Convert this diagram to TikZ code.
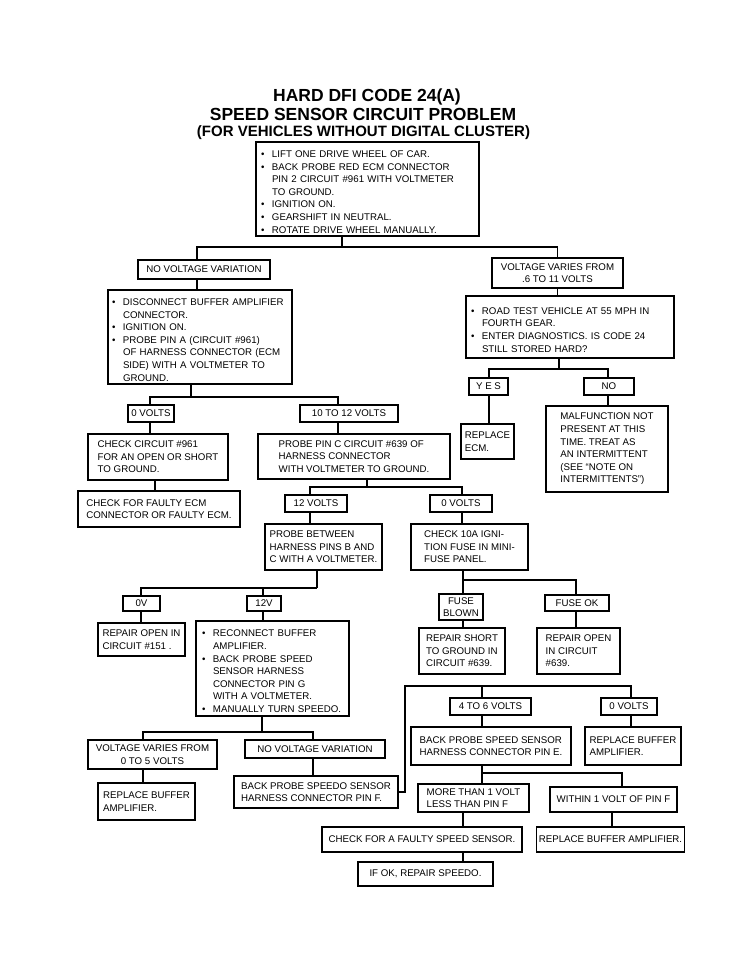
\documentclass[tikz,border=0pt]{standalone}
\usepackage{fontspec}
\setmainfont{Liberation Sans}
\newcommand{\bul}{\par\noindent\hangindent=11pt\hangafter=1\makebox[11pt][l]{\textbullet}}
\begin{document}
\begin{tikzpicture}[x=1pt,y=-1pt,
  box/.style={draw, line width=1.2pt, inner xsep=5pt, inner ysep=1pt, font=\fontsize{9.7}{12.6}\selectfont},
  L/.style={box, align=left},
  C/.style={box, align=center},
  S/.style={box, inner xsep=2pt},
  wire/.style={line width=1.2pt},
  ttl/.style={font=\bfseries\fontsize{17.5}{20}\selectfont, anchor=base}]
\useasboundingbox (0,0) rectangle (743,980);

% titles
\node[ttl] (t1) at (367,101) {HARD DFI CODE 24(A)};
\node[ttl] (t2) at (363,120) {SPEED SENSOR CIRCUIT PROBLEM};
\node[ttl, font=\bfseries\fontsize{15}{18}\selectfont] (t3) at (363.5,136) {(FOR VEHICLES WITHOUT DIGITAL CLUSTER)};

% boxes
\node[L, text width=213pt, minimum height=94pt] (A) at (367.5,189) {\bul LIFT ONE DRIVE WHEEL OF CAR.\bul BACK PROBE RED ECM CONNECTOR\newline PIN 2 CIRCUIT \#961 WITH VOLTMETER\newline TO GROUND.\bul IGNITION ON.\bul GEARSHIFT IN NEUTRAL.\bul ROTATE DRIVE WHEEL MANUALLY.\par};

\node[S, minimum width=132pt, minimum height=19pt] (B1) at (204,269.5) {NO VOLTAGE VARIATION};
\node[C, inner xsep=2pt, minimum width=131pt, minimum height=30pt] (B2) at (557.5,273) {VOLTAGE VARIES FROM\\.6 TO 11 VOLTS};

\node[L, inner xsep=4pt, text width=176pt, minimum height=94pt] (C1) at (200,337) {\bul DISCONNECT BUFFER AMPLIFIER\newline CONNECTOR.\bul IGNITION ON.\bul PROBE PIN A (CIRCUIT \#961)\newline OF HARNESS CONNECTOR (ECM\newline SIDE) WITH A VOLTMETER TO\newline GROUND.\par};
\node[L, text width=198pt, minimum height=62pt] (C2) at (570,327) {\bul ROAD TEST VEHICLE AT 55 MPH IN\newline FOURTH GEAR.\bul ENTER DIAGNOSTICS. IS CODE 24\newline STILL STORED HARD?\par};

\node[S, minimum width=39pt, minimum height=17pt] (YES) at (488.5,386.5) {Y E S};
\node[S, minimum width=50pt, minimum height=17pt] (NO) at (609,386.5) {NO};
\node[L, inner xsep=3pt, minimum width=53pt, minimum height=35pt] (RECM) at (487.5,441.5) {REPLACE\\ECM.};
\node[L, inner xsep=3pt, minimum width=122pt, minimum height=86pt] (MAL) at (607,449) {MALFUNCTION NOT\\PRESENT AT THIS\\TIME. TREAT AS\\AN INTERMITTENT\\(SEE “NOTE ON\\INTERMITTENTS”)};

\node[S, minimum width=46pt, minimum height=17pt] (D1) at (151,413.5) {0 VOLTS};
\node[S, minimum width=98pt, minimum height=17pt] (D2) at (349,413.5) {10 TO 12 VOLTS};

\node[L, inner xsep=3pt, minimum width=140pt, minimum height=46pt] (E1) at (158,457) {CHECK CIRCUIT \#961\\FOR AN OPEN OR SHORT\\TO GROUND.};
\node[L, inner xsep=3pt, minimum width=192pt, minimum height=45pt] (E2) at (354,456.5) {PROBE PIN C CIRCUIT \#639 OF\\HARNESS CONNECTOR\\WITH VOLTMETER TO GROUND.};
\node[L, inner xsep=3pt, minimum width=162pt, minimum height=36pt] (F1) at (159,509) {CHECK FOR FAULTY ECM\\CONNECTOR OR FAULTY ECM.};

\node[S, minimum width=62pt, minimum height=17pt] (G1) at (316,503.5) {12 VOLTS};
\node[S, minimum width=62pt, minimum height=17pt] (G2) at (461,503.5) {0 VOLTS};

\node[L, inner xsep=3pt, minimum width=117pt, minimum height=46pt] (H1) at (323.5,547) {PROBE BETWEEN\\HARNESS PINS B AND\\C WITH A VOLTMETER.};
\node[L, inner xsep=3pt, minimum width=117pt, minimum height=46pt] (H2) at (469.5,547) {CHECK 10A IGNI-\\TION FUSE IN MINI-\\FUSE PANEL.};

\node[S, minimum width=37pt, minimum height=15pt] (V0) at (141.5,603.5) {0V};
\node[S, minimum width=34pt, minimum height=15pt] (V12) at (264,603.5) {12V};
\node[L, inner xsep=3pt, minimum width=87pt, minimum height=33pt] (I1) at (141.5,639.5) {REPAIR OPEN IN\\CIRCUIT \#151 .};
\node[L, inner xsep=6pt, text width=141pt, minimum height=95pt] (I2) at (272.5,668.5) {\bul RECONNECT BUFFER\newline AMPLIFIER.\bul BACK PROBE SPEED\newline SENSOR HARNESS\newline CONNECTOR PIN G\newline WITH A VOLTMETER.\bul MANUALLY TURN SPEEDO.\par};

\node[C, inner xsep=2pt, minimum width=44pt, minimum height=26pt] (FB) at (461,607) {FUSE\\BLOWN};
\node[S, minimum width=64pt, minimum height=16pt] (FOK) at (577,603) {FUSE OK};
\node[L, inner xsep=3pt, minimum width=86pt, minimum height=46pt] (J1) at (462,651) {REPAIR SHORT\\TO GROUND IN\\CIRCUIT \#639.};
\node[L, inner xsep=3pt, minimum width=83pt, minimum height=46pt] (J2) at (578.5,651) {REPAIR OPEN\\IN CIRCUIT\\\#639.};

\node[S, minimum width=81pt, minimum height=17pt] (K1) at (490.5,706.5) {4 TO 6 VOLTS};
\node[S, minimum width=56pt, minimum height=17pt] (K2) at (629,706.5) {0 VOLTS};
\node[L, inner xsep=3pt, minimum width=160pt, minimum height=38pt] (N1) at (491,746) {BACK PROBE SPEED SENSOR\\HARNESS CONNECTOR PIN E.};
\node[L, inner xsep=3pt, minimum width=96pt, minimum height=38pt] (N2) at (633,746) {REPLACE BUFFER\\AMPLIFIER.};

\node[C, inner xsep=2pt, minimum width=129pt, minimum height=29pt] (L1) at (152.5,754.5) {VOLTAGE VARIES FROM\\0 TO 5 VOLTS};
\node[S, minimum width=140pt, minimum height=18pt] (L2) at (315,749) {NO VOLTAGE VARIATION};
\node[L, inner xsep=3pt, minimum width=97pt, minimum height=37pt] (M1) at (146.5,801.5) {REPLACE BUFFER\\AMPLIFIER.};
\node[L, inner xsep=3pt, minimum width=164pt, minimum height=32pt] (M2) at (316,792) {BACK PROBE SPEEDO SENSOR\\HARNESS CONNECTOR PIN F.};

\node[L, inner xsep=3pt, minimum width=111pt, minimum height=28pt] (O1) at (473.5,798) {MORE THAN 1 VOLT\\LESS THAN PIN F};
\node[S, minimum width=127pt, minimum height=25pt] (O2) at (613.5,799.5) {WITHIN 1 VOLT OF PIN F};
\node[S, minimum width=200pt, minimum height=25pt] (P1) at (422,839.5) {CHECK FOR A FAULTY SPEED SENSOR.};
\node[S, minimum width=147pt, minimum height=25pt] (P2) at (610.5,839.5) {REPLACE BUFFER AMPLIFIER.};
\node[S, minimum width=135pt, minimum height=24pt] (Q) at (425.5,874) {IF OK, REPAIR SPEEDO.};

% connectors
\coordinate (jA) at (342,247);
\coordinate (xB1) at (197,0);
\draw[wire] (jA |- A.south) -- (jA);
\draw[wire] (xB1 |- B1.north) |- (jA);
\draw[wire] (B2.north) |- (jA);
\draw[wire] (xB1 |- B1.south) -- (xB1 |- C1.north);
\draw[wire] (B2.south) -- (B2.south |- C2.north);

\coordinate (jC1) at (191,397);
\coordinate (xD1) at (150,0);
\coordinate (xD2) at (338,0);
\draw[wire] (jC1 |- C1.south) -- (jC1);
\draw[wire] (xD1 |- D1.north) |- (jC1);
\draw[wire] (xD2 |- D2.north) |- (jC1);
\draw[wire] (xD1 |- D1.south) -- (xD1 |- E1.north);
\draw[wire] (xD2 |- D2.south) -- (xD2 |- E2.north);
\coordinate (xE1) at (155,0);
\draw[wire] (xE1 |- E1.south) -- (xE1 |- F1.north);

\coordinate (jE2) at (367,487);
\coordinate (xG1) at (310,0);
\coordinate (xG2) at (462,0);
\draw[wire] (jE2 |- E2.south) -- (jE2);
\draw[wire] (xG1 |- G1.north) |- (jE2);
\draw[wire] (xG2 |- G2.north) |- (jE2);
\draw[wire] (xG1 |- G1.south) -- (xG1 |- H1.north);
\draw[wire] (xG2 |- G2.south) -- (xG2 |- H2.north);

\coordinate (jH1) at (317,588);
\coordinate (xV0) at (141,0);
\coordinate (xV12) at (263,0);
\draw[wire] (jH1 |- H1.south) -- (jH1);
\draw[wire] (xV0 |- V0.north) |- (jH1);
\draw[wire] (xV12 |- V12.north) |- (jH1);
\draw[wire] (xV0 |- V0.south) -- (xV0 |- I1.north);
\draw[wire] (xV12 |- V12.south) -- (xV12 |- I2.north);

\coordinate (jH2) at (463,580);
\coordinate (xFOK) at (576,0);
\draw[wire] (jH2 |- H2.south) -- (jH2 |- FB.north);
\draw[wire] (jH2) -| (xFOK |- FOK.north);
\draw[wire] (jH2 |- FB.south) -- (jH2 |- J1.north);
\draw[wire] (xFOK |- FOK.south) -- (xFOK |- J2.north);

\coordinate (jK) at (405,686);
\coordinate (xK1) at (482,0);
\coordinate (xK2) at (631,0);
\draw[wire] (M2.east) -| (jK) -| (xK2 |- K2.north);
\draw[wire] (xK1 |- jK) -- (xK1 |- K1.north);
\draw[wire] (xK1 |- K1.south) -- (xK1 |- N1.north);
\draw[wire] (xK2 |- K2.south) -- (xK2 |- N2.north);

\coordinate (jN) at (482,773);
\coordinate (xO2) at (622,0);
\draw[wire] (xK1 |- N1.south) -- (xK1 |- O1.north);
\draw[wire] (jN) -| (xO2 |- O2.north);
\coordinate (xP1) at (463,0);
\coordinate (xP2) at (612,0);
\draw[wire] (xP1 |- O1.south) -- (xP1 |- P1.north);
\draw[wire] (xP2 |- O2.south) -- (xP2 |- P2.north);
\draw[wire] (xP1 |- P1.south) -- (xP1 |- Q.north);

\coordinate (jI2) at (262,732);
\coordinate (xL1) at (143,0);
\coordinate (xL2) at (313,0);
\draw[wire] (jI2 |- I2.south) -- (jI2);
\draw[wire] (xL1 |- L1.north) |- (jI2);
\draw[wire] (xL2 |- L2.north) |- (jI2);
\draw[wire] (xL1 |- L1.south) -- (xL1 |- M1.north);
\draw[wire] (xL2 |- L2.south) -- (xL2 |- M2.north);

\coordinate (jC2) at (559,369);
\coordinate (xYES) at (489,0);
\coordinate (xNO) at (608,0);
\draw[wire] (jC2 |- C2.south) -- (jC2);
\draw[wire] (xYES |- YES.north) |- (jC2);
\draw[wire] (xNO |- NO.north) |- (jC2);
\draw[wire] (xYES |- YES.south) -- (xYES |- RECM.north);
\draw[wire] (xNO |- NO.south) -- (xNO |- MAL.north);
\end{tikzpicture}
\end{document}
